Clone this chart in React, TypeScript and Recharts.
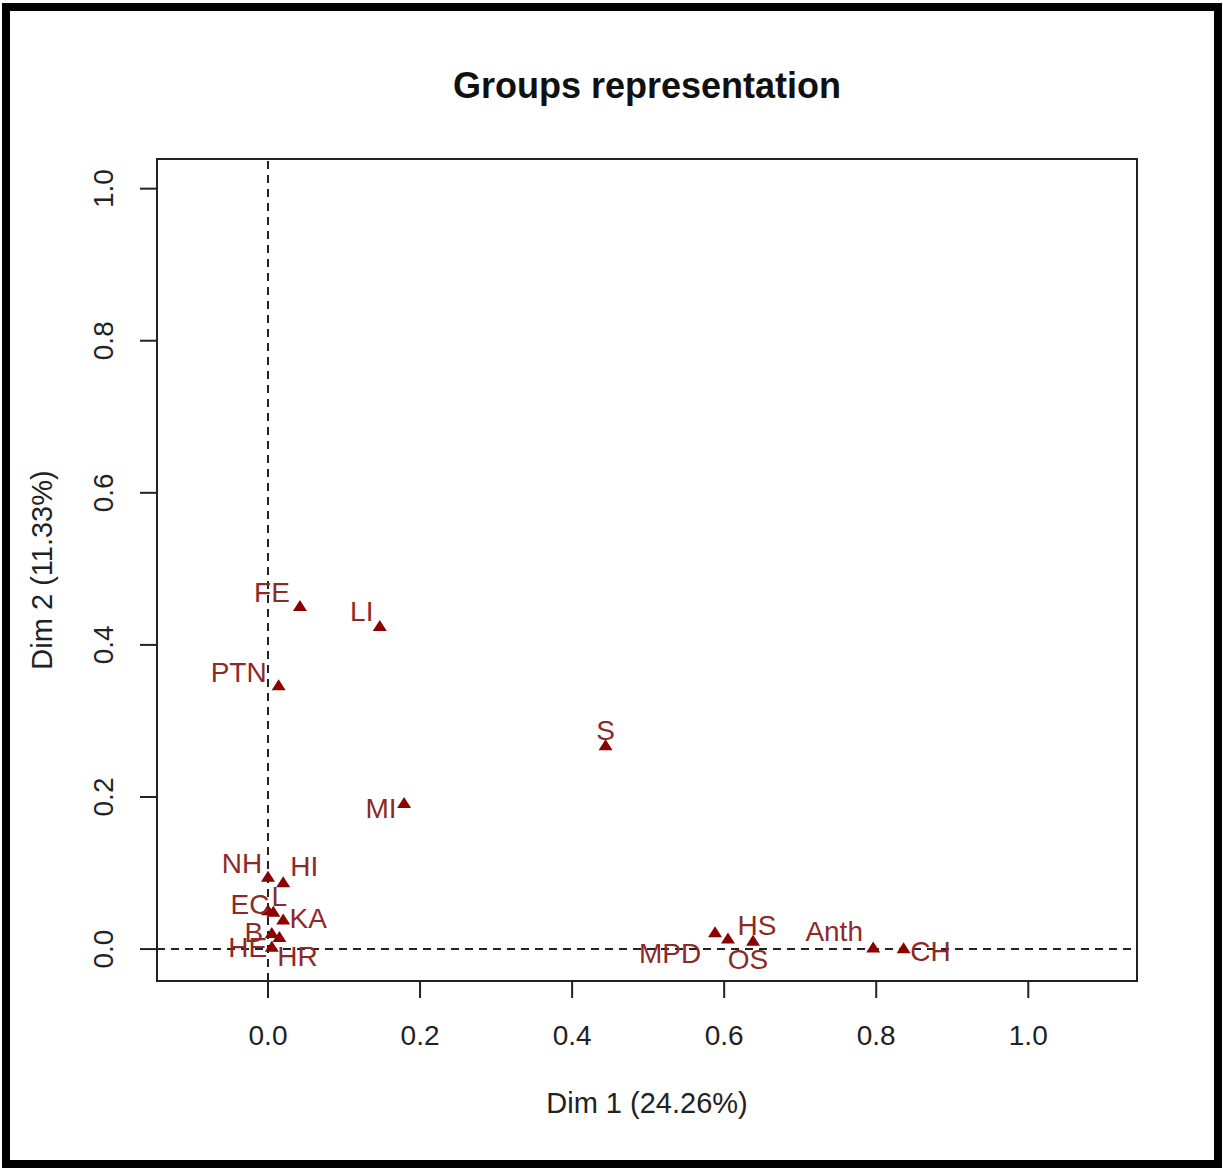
import React from "react";
import {
  ScatterChart,
  Scatter,
  XAxis,
  YAxis,
  ReferenceLine,
  ReferenceArea,
} from "recharts";

// groups
const groups = ["FE", "LI", "PTN", "S", "MI", "NH", "HI", "EC", "L", "KA", "B", "HE", "HR", "MPD", "HS", "OS", "Anth", "CH"];
const dim1 = [0.042, 0.147, 0.014, 0.444, 0.179, 0.0, 0.02, 0.0, 0.007, 0.02, 0.005, 0.005, 0.015, 0.588, 0.605, 0.638, 0.796, 0.836];
const dim2 = [0.451, 0.425, 0.347, 0.268, 0.192, 0.095, 0.088, 0.051, 0.049, 0.039, 0.021, 0.003, 0.016, 0.022, 0.014, 0.011, 0.002, 0.001];

const xTicks = [0, 0.2, 0.4, 0.6, 0.8, 1.0];
const yTicks = [0, 0.2, 0.4, 0.6, 0.8, 1.0];

const xMin = -0.146;
const xMax = 1.143;
const yMin = -0.042;
const yMax = 1.039;

// where each label sits relative to its point (px)
const labelOffset: Record<string, [number, number]> = {
  FE: [-28, -14],
  LI: [-18, -14],
  PTN: [-40, -13],
  S: [0, -15],
  MI: [-23, 5],
  NH: [-26, -13],
  HI: [21, -16],
  EC: [-18, -6],
  L: [6, -15],
  KA: [25, -1],
  B: [-18, -1],
  HE: [-24, 1],
  HR: [18, 20],
  MPD: [-45, 21],
  HS: [29, -13],
  OS: [-5, 19],
  Anth: [-39, -16],
  CH: [27, 3],
};

const data = groups.map((name, i) => ({ name, x: dim1[i], y: dim2[i] }));

const FONT = "'Liberation Sans', Arial, sans-serif";

const GroupMark = (props: any) => {
  const { cx, cy, payload } = props;
  const [dx, dy] = labelOffset[payload.name] ?? [0, -14];
  return (
    <g>
      <polygon
        points={`${cx},${cy - 6} ${cx - 7},${cy + 5} ${cx + 7},${cy + 5}`}
        fill="#8b0000"
      />
      <text
        x={cx + dx}
        y={cy + dy}
        textAnchor="middle"
        dominantBaseline="central"
        fontFamily={FONT}
        fontSize={28}
        fill="#8c2a2a"
      >
        {payload.name}
      </text>
    </g>
  );
};

const XTick = (props: any) => {
  const { x, y, payload } = props;
  return (
    <text
      x={x}
      y={y + 37}
      textAnchor="middle"
      dominantBaseline="central"
      fontFamily={FONT}
      fontSize={28}
      fill="#222"
    >
      {Number(payload.value).toFixed(1)}
    </text>
  );
};

const YTick = (props: any) => {
  const { x, y, payload } = props;
  return (
    <text
      x={x - 36}
      y={y}
      textAnchor="middle"
      dominantBaseline="central"
      transform={`rotate(-90, ${x - 36}, ${y})`}
      fontFamily={FONT}
      fontSize={28}
      fill="#222"
    >
      {Number(payload.value).toFixed(1)}
    </text>
  );
};

export default function App() {
  return (
    <div
      style={{
        position: "absolute",
        left: 0,
        top: 0,
        width: 1223,
        height: 1168,
        background: "#fff",
        fontFamily: FONT,
      }}
    >
      <div
        style={{
          position: "absolute",
          left: 2,
          top: 3,
          width: 1220,
          height: 1165,
          border: "8px solid #000",
          boxSizing: "border-box",
        }}
      />

      <div
        style={{
          position: "absolute",
          left: 147,
          width: 1000,
          top: 66,
          textAlign: "center",
          fontWeight: "bold",
          fontSize: 36,
          lineHeight: "40px",
          color: "#111",
        }}
      >
        Groups representation
      </div>

      <div style={{ position: "absolute", left: 0, top: 0 }}>
        <ScatterChart
          width={1223}
          height={1168}
          margin={{ top: 159, right: 86, bottom: 37, left: 97 }}
        >
          <XAxis
            type="number"
            dataKey="x"
            domain={[xMin, xMax]}
            ticks={xTicks}
            allowDataOverflow
            axisLine={false}
            tickSize={17}
            tickMargin={0}
            tickLine={{ stroke: "#222", strokeWidth: 2 }}
            tick={<XTick />}
            height={150}
          />
          <YAxis
            type="number"
            dataKey="y"
            domain={[yMin, yMax]}
            ticks={yTicks}
            allowDataOverflow
            axisLine={false}
            tickSize={17}
            tickMargin={0}
            tickLine={{ stroke: "#222", strokeWidth: 2 }}
            tick={<YTick />}
            width={60}
          />
          <ReferenceArea
            x1={xMin}
            x2={xMax}
            y1={yMin}
            y2={yMax}
            fill="none"
            fillOpacity={0}
            stroke="#222"
            strokeWidth={2}
          />
          <ReferenceLine x={0} stroke="#222" strokeWidth={2} strokeDasharray="8 6" />
          <ReferenceLine y={0} stroke="#222" strokeWidth={2} strokeDasharray="8 6" />
          <Scatter data={data} shape={<GroupMark />} isAnimationActive={false} />
        </ScatterChart>
      </div>

      <div
        style={{
          position: "absolute",
          left: 147,
          width: 1000,
          top: 1086,
          textAlign: "center",
          fontSize: 29,
          lineHeight: "34px",
          color: "#222",
        }}
      >
        Dim 1 (24.26%)
      </div>

      <div
        style={{
          position: "absolute",
          left: 42 - 200,
          top: 570 - 17,
          width: 400,
          textAlign: "center",
          fontSize: 29,
          lineHeight: "34px",
          color: "#222",
          transform: "rotate(-90deg)",
        }}
      >
        Dim 2 (11.33%)
      </div>
    </div>
  );
}
